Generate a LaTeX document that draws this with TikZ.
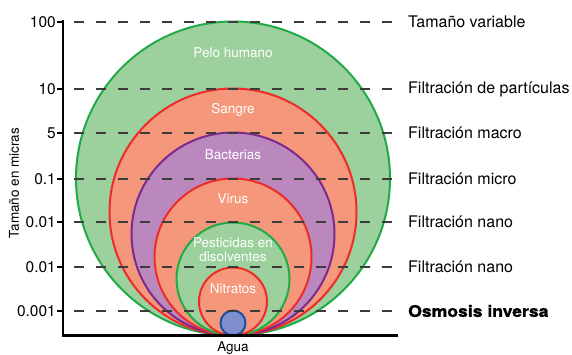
\documentclass[tikz,border=0pt]{standalone}
\usepackage{fontspec}
\setmainfont{TeX Gyre Heros}
\newfontfamily\heavyfont[FakeStretch=1.1,FakeBold=1.2]{TeX Gyre Heros}
\usetikzlibrary{positioning}
\definecolor{HairFill}{HTML}{9CD09C}
\definecolor{HairLine}{HTML}{22AA48}
\definecolor{BloodFill}{HTML}{F5977A}
\definecolor{BloodLine}{HTML}{EE2B2B}
\definecolor{BactFill}{HTML}{BB88BD}
\definecolor{BactLine}{HTML}{7D2A90}
\definecolor{WaterFill}{HTML}{7F8ECC}
\definecolor{WaterLine}{HTML}{1F4FA0}
\definecolor{Guide}{HTML}{3C3C3C}

\begin{document}
\begin{tikzpicture}[x=1pt,y=-1pt,
    blob/.style={line width=2pt},
    inner/.style={text=white,font=\fontsize{13.5}{14}\selectfont,align=center,inner sep=0pt},
    sizelbl/.style={anchor=east,font=\fontsize{15.5}{16}\selectfont,inner sep=0pt},
    filtlbl/.style={anchor=west,font=\fontsize{16}{17}\selectfont,inner sep=0pt},
    guide/.style={Guide,line width=1.2pt,dash pattern=on 10pt off 12pt}]
    \useasboundingbox (0,0) rectangle (572,354);
    % particles, largest first, all touching the base line
    \draw[blob,HairLine,fill=HairFill] (233,178.5) circle (157);
    \draw[blob,BloodLine,fill=BloodFill] (233,212) circle (123.5);
    \draw[blob,BactLine,fill=BactFill] (233,234) circle (101.5);
    \draw[blob,BloodLine,fill=BloodFill] (233,257) circle (78.5);
    \draw[blob,HairLine,fill=HairFill] (233,279) circle (56.5);
    \draw[blob,BloodLine,fill=BloodFill] (233,301.5) circle (34);
    \draw[blob,WaterLine,fill=WaterFill] (233,323) circle (12.5);
    % size levels
    \foreach \y/\v/\t [count=\i] in {22/100/Tamaño variable,
        89/10/Filtración de partículas, 133/5/Filtración macro,
        179/0.1/Filtración micro, 222/0.01/Filtración nano,
        267/0.01/Filtración nano, 311/0.001/{\heavyfont\bfseries Osmosis inversa}} {
      \node[sizelbl] (v\i) at (56,\y) {\v};
      \node[filtlbl] (f\i) at (408,\y) {\t};
      \coordinate (t\i) at (57,\y);
      \draw[black,line width=1.2pt] (t\i) -- ++(6,0);
      \draw[guide] (t\i) ++(17,0) -- ([xshift=-9pt]f\i.west);
    }
    \node[inner] (hair) at (233,53) {Pelo humano};
    \node[inner] (blood) at (233,110) {Sangre};
    \node[inner] (bact) at (233,155) {Bacterias};
    \node[inner] (virus) at (233,199) {Virus};
    \node[inner] (pest) at (233,250) {Pesticidas en\\[0pt]disolventes};
    \node[inner] (nitr) at (233,289) {Nitratos};
    % axes
    \coordinate (top) at (63,21);
    \coordinate (origin) at (63,335.5);
    \coordinate (right) at (397,335.5);
    \draw[black,line width=2.2pt,line cap=rect] (top) -- (origin) -- (right);
    \node[font=\fontsize{13.5}{14}\selectfont,inner sep=0pt] (water) at (233,348) {Agua};
    \node[font=\fontsize{13.5}{14}\selectfont,rotate=90,inner sep=0pt] (ylbl) at (14,183) {Tamaño en micras};
  \end{tikzpicture}
\end{document}
